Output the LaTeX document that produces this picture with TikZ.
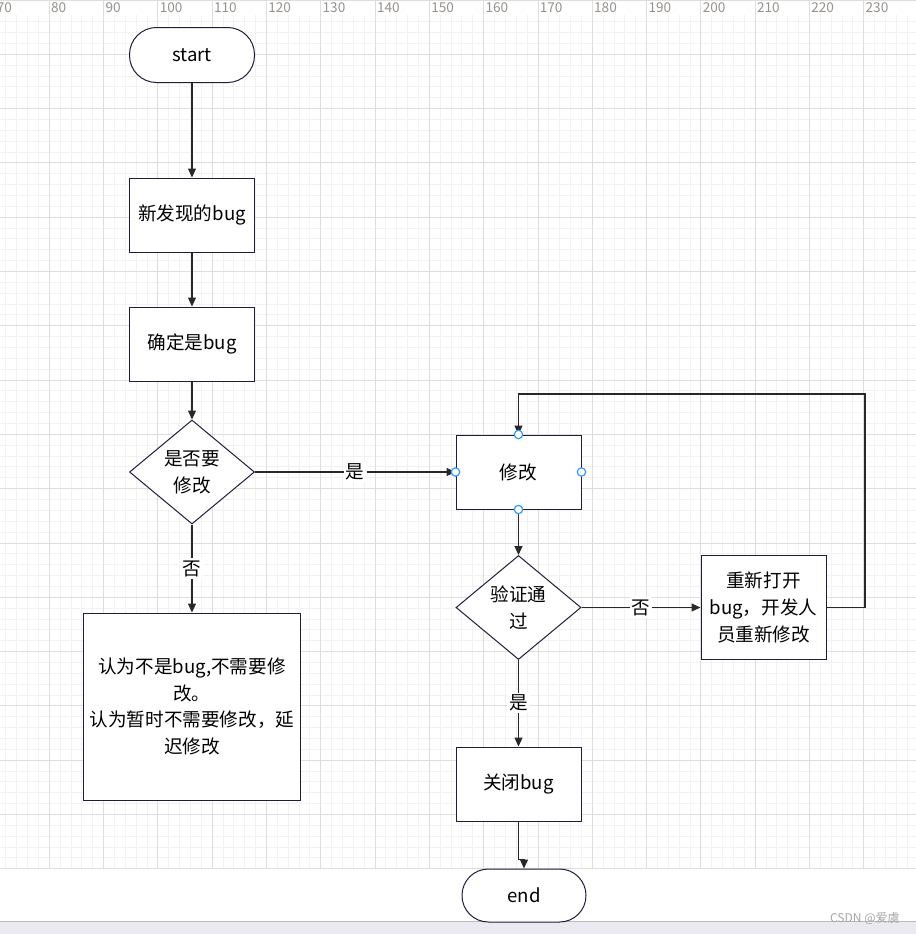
\documentclass[tikz,border=0pt]{standalone}
\usepackage{fontspec}
\setmainfont{Noto Sans CJK SC}
\usetikzlibrary{shapes.geometric,arrows.meta,positioning}
\definecolor{nodeline}{RGB}{30,30,60}
\definecolor{wire}{RGB}{40,40,40}
\definecolor{minorgrid}{RGB}{242,242,242}
\definecolor{majorgrid}{RGB}{222,222,222}
\definecolor{pinblue}{RGB}{51,153,255}
\definecolor{rulertext}{RGB}{150,145,140}
\definecolor{barfill}{RGB}{235,234,240}
\tikzstyle{txt}=[font=\fontsize{9.3pt}{13.4pt}\selectfont,text=black,align=center]
\tikzstyle{terminal}=[txt,rectangle,rounded corners=13.5pt,draw=nodeline,line width=0.5pt,fill=white,minimum width=62.5pt,minimum height=27.5pt]
\tikzstyle{process}=[txt,rectangle,draw=nodeline,line width=0.5pt,fill=white,minimum width=62.5pt,minimum height=37pt,inner sep=1pt]
\tikzstyle{decision}=[txt,diamond,aspect=1.2,draw=nodeline,line width=0.5pt,fill=white,minimum width=62.5pt,minimum height=52pt,inner sep=0pt]
\tikzstyle{conn}=[draw=wire,line width=0.6pt,-{Triangle[length=4.5pt,width=4pt]}]
\tikzstyle{lbl}=[txt,fill=white,inner sep=1pt]
\tikzstyle{pin}=[circle,draw=pinblue,fill=white,line width=0.6pt,inner sep=0pt,minimum size=4.2pt]

\begin{document}
\begin{tikzpicture}[x=0.5pt,y=0.5pt]
\useasboundingbox (0,0) rectangle (916,-934);
\fill[white] (0,0) rectangle (916,-934);

% grid and ruler
\foreach \i in {0,...,84} \draw[minorgrid,line width=0.5pt] ({-5+10.86*\i},-15) -- ({-5+10.86*\i},-868.8);
\foreach \j in {2,...,80} \draw[minorgrid,line width=0.5pt] (0,{-10.86*\j}) -- (916,{-10.86*\j});
\foreach \k in {0,...,16} \draw[majorgrid,line width=0.5pt] ({-5+54.3*\k},0) -- ({-5+54.3*\k},-868.8);
\foreach \k in {1,...,16} \draw[majorgrid,line width=0.5pt] (0,{-54.3*\k}) -- (916,{-54.3*\k});
\draw[majorgrid,line width=0.5pt] (0,-0.5) -- (916,-0.5);
\foreach \k in {0,...,16} {
  \pgfmathtruncatemacro\rv{70+10*\k}
  \node[anchor=west,inner sep=0pt,text=rulertext,font=\fontsize{6.8pt}{7pt}\selectfont] at ({-3.5+54.3*\k},-8) {\rv};
}
\fill[barfill] (0,-921.5) rectangle (916,-934);
\draw[gray!55,line width=0.5pt] (0,-921.5) -- (916,-921.5);
\node[anchor=east,inner sep=0pt,text=gray!70,font=\fontsize{6pt}{7pt}\selectfont] at (900,-918) {CSDN @爱虞};

% nodes
\node (start) at (192,-55) [terminal] {start};
\node (find) at (192,-215) [process] {新发现的bug};
\node (confirm) at (192,-344) [process] {确定是bug};
\node (decide) at (192,-472) [decision] {是否要\\修改};
\node (reject) at (192,-706.5) [process,minimum width=108.5pt,minimum height=93.5pt] {认为不是bug,不需要修\\改。\\认为暂时不需要修改，延\\迟修改};
\node (fix) at (518.5,-472) [process] {修改};
\node (verify) at (518.5,-607.5) [decision] {验证通\\过};
\node (reopen) at (763.5,-607.5) [process,minimum height=52pt] {重新打开\\bug，开发人\\员重新修改};
\node (close) at (518.5,-784) [process] {关闭bug};
\node (fin) at (524,-895.5) [terminal,minimum width=62pt,minimum height=26.5pt,rounded corners=13.2pt] {end};
\coordinate (loop) at (865,-394);

% connectors
\draw[conn] (start) -- (find);
\draw[conn] (find) -- (confirm);
\draw[conn] (confirm) -- (decide);
\draw[conn] (decide) -- (fix) node[midway,lbl] {是};
\draw[conn] (decide) -- (reject) node[midway,lbl] {否};
\draw[conn] (fix) -- (verify);
\draw[conn] (verify) -- (reopen) node[midway,lbl] {否};
\draw[conn] (verify) -- (close) node[midway,lbl] {是};
\draw[conn] (reopen.east) -| (loop) -| (fix.north);
\draw[conn] (close.south) -- ++(0,-38) -| (fin.north);

% selection handles
\node at (fix.north) [pin] {};
\node at (fix.south) [pin] {};
\node at (fix.east) [pin] {};
\node at (fix.west) [pin] {};
\end{tikzpicture}
\end{document}
